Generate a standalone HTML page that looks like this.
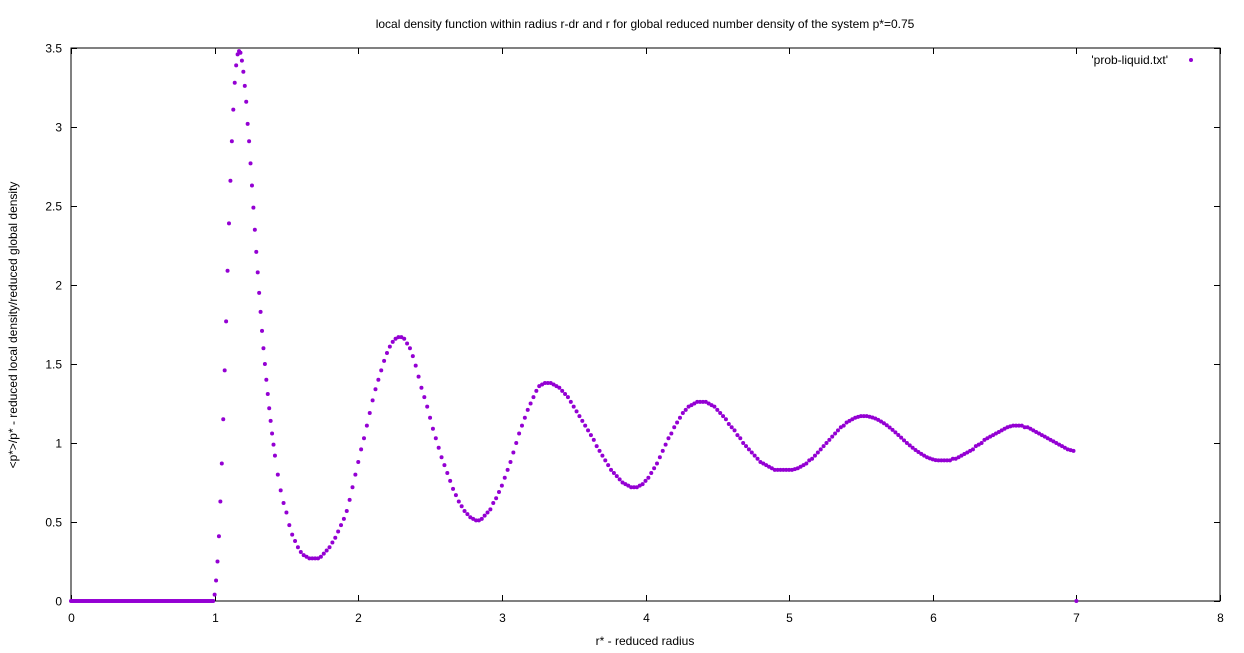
<!DOCTYPE html>
<html><head><meta charset="utf-8"><style>
html,body{margin:0;padding:0;background:#fff;}
svg{display:block;font-family:"Liberation Sans",sans-serif;font-size:12px;}
</style></head><body>
<svg id="chart" width="1244" height="653" viewBox="0 0 1244 653" xmlns="http://www.w3.org/2000/svg">
<rect x="0" y="0" width="1244" height="653" fill="#fff"/>
<text x="645" y="28" text-anchor="middle" fill="#000">local density function within radius r-dr and r for global reduced number density of the system p*=0.75</text>
<text x="645" y="645" text-anchor="middle" fill="#000">r* - reduced radius</text>
<text x="0" y="0" transform="translate(17,325) rotate(-90)" text-anchor="middle" fill="#000">&lt;p*&gt;/p* - reduced local density/reduced global density</text>
<g id="axes"></g>
<g id="marks"></g>
<g>
<text x="1168" y="64" text-anchor="end" fill="#000">'prob-liquid.txt'</text>
<circle cx="1191" cy="60" r="2" fill="#9400d3"/>
</g>
</svg>
<script>
const xTicks = [0,1,2,3,4,5,6,7,8];
const yTicks = [0,0.5,1,1.5,2,2.5,3,3.5];
const yTickLabels = ["0","0.5","1","1.5","2","2.5","3","3.5"];
const zeroStart = 0, zeroStep = 0.01;
const zeroValues = new Array(100).fill(0);
const peakStart = 1.00, peakStep = 0.01;
const peakValues = [0.04,0.13,0.25,0.41,0.63,0.87,1.15,1.46,1.77,2.09,2.39,2.66,2.91,3.11,3.28,3.39,3.46,3.48,3.47,3.42,3.35,3.26,3.16,3.02,2.91,2.77,2.63,2.49,2.35,2.21,2.08,1.95,1.83,1.71,1.60,1.50,1.40,1.31,1.22,1.14,1.06,0.99];
const tailStart = 1.42, tailStep = 0.02;
const tailValues = [
0.92,0.80,0.70,0.62,0.56,0.48,0.42,0.38,0.34,0.31,0.29,0.28,0.27,0.27,0.27,
0.27,0.28,0.30,0.32,0.34,0.37,0.40,0.44,0.48,0.52,0.57,0.64,0.72,0.80,0.88,0.96,1.03,1.11,1.19,1.27,1.34,1.40,1.46,1.52,1.57,1.61,1.64,1.66,1.67,1.67,
1.66,1.63,1.60,1.55,1.49,1.42,1.35,1.29,1.23,1.16,1.09,1.03,0.97,0.91,0.86,0.81,0.76,0.71,0.67,0.63,0.60,0.57,0.55,0.53,0.52,0.51,0.51,
0.52,0.54,0.56,0.58,0.62,0.65,0.69,0.73,0.78,0.83,0.88,0.94,1.00,1.06,1.11,1.16,1.21,1.25,1.29,1.33,1.36,1.37,1.38,1.38,
1.38,1.37,1.36,1.35,1.33,1.31,1.29,1.26,1.23,1.20,1.17,1.14,1.11,1.08,1.05,1.02,0.98,0.95,0.92,0.89,0.86,0.83,0.81,0.79,0.77,0.75,0.74,0.73,0.72,0.72,0.72,
0.73,0.74,0.76,0.78,0.81,0.84,0.87,0.91,0.95,0.99,1.03,1.06,1.10,1.13,1.16,1.19,1.21,1.23,1.24,1.25,1.26,1.26,1.26,1.26,
1.25,1.24,1.23,1.21,1.19,1.17,1.15,1.12,1.10,1.08,1.05,1.03,1.00,0.98,0.96,0.94,0.92,0.90,0.88,0.87,0.86,0.85,0.84,0.83,0.83,0.83,0.83,0.83,0.83,
0.83,0.835,0.84,0.85,0.86,0.87,0.89,0.90,0.92,0.94,0.96,0.98,1.00,1.02,1.04,1.06,1.08,1.10,1.11,1.13,1.14,1.15,1.16,1.165,1.17,1.17,
1.17,1.166,1.161,1.155,1.146,1.136,1.125,1.112,1.098,1.083,1.067,1.051,1.034,1.017,1.0,0.985,0.97,0.956,0.943,0.931,0.92,0.91,0.903,0.896,0.892,0.89,
0.89,0.89,0.89,0.89,0.90,0.90,0.91,0.92,0.93,0.94,0.95,0.96,0.98,0.99,1.00,1.02,1.03,1.04,1.05,1.06,1.07,1.08,1.09,1.10,1.105,1.11,1.11,1.11,
1.11,1.10,1.10,1.09,1.08,1.07,1.06,1.05,1.04,1.03,1.02,1.01,1.00,0.99,0.98,0.97,0.96,0.955,0.95];
const endPointR = [7.0];
const endPointV = [0];

const X0 = 71, X1 = 1220, Y0 = 601, Y1 = 48;
const xMax = 8, yMax = 3.5;
function sx(v){ return X0 + v/xMax*(X1-X0); }
function sy(v){ return Y0 - v/yMax*(Y0-Y1); }
const NS = "http://www.w3.org/2000/svg";
const axes = document.getElementById('axes');
const marks = document.getElementById('marks');
function mk(tag, attrs, parent){ const e=document.createElementNS(NS,tag); for(const k in attrs) e.setAttribute(k,attrs[k]); parent.appendChild(e); return e; }

const frame = mk('rect',{x:X0,y:Y1,width:X1-X0,height:Y0-Y1,fill:'none',stroke:'#000','stroke-width':1},axes);


xTicks.forEach(t=>{
  const x = Math.round(sx(t))+0.5;
  const a = mk('line',{x1:x,y1:Y0,x2:x,y2:Y0-6,stroke:'#000'},axes);
  
  
  const b = mk('line',{x1:x,y1:Y1,x2:x,y2:Y1+6,stroke:'#000'},axes);
  
  
  const l = mk('text',{x:x,y:Y0+21,'text-anchor':'middle',fill:'#000'},axes);
  l.textContent = String(t);
  
  
});
yTicks.forEach((t,i)=>{
  const y = Math.round(sy(t))+0.5;
  const a = mk('line',{x1:X0,y1:y,x2:X0+6,y2:y,stroke:'#000'},axes);
  
  
  const b = mk('line',{x1:X1,y1:y,x2:X1-6,y2:y,stroke:'#000'},axes);
  
  
  const l = mk('text',{x:X0-9,y:y+4,'text-anchor':'end',fill:'#000'},axes);
  l.textContent = yTickLabels[i];
  
  
});
function plot(start, step, vals){
  vals.forEach((v,i)=>{
    const c = mk('circle',{cx:sx(start+i*step),cy:sy(v),r:2,fill:'#9400d3'},marks);
    
    
  });
}
plot(zeroStart, zeroStep, zeroValues);
plot(peakStart, peakStep, peakValues);
plot(tailStart, tailStep, tailValues);
endPointR.forEach((r,i)=>{
  const c = mk('circle',{cx:sx(r),cy:sy(endPointV[i]),r:2,fill:'#9400d3'},marks);
  
  
});
</script>
</body></html>
